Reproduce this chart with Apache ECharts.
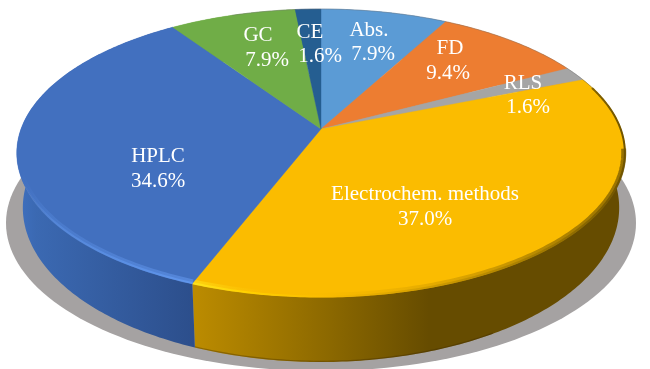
<!DOCTYPE html>
<html><head><meta charset="utf-8">
<style>html,body{margin:0;padding:0;background:#fff}#c{width:650px;height:369px}</style>
<script src="https://cdn.jsdelivr.net/npm/echarts@6/dist/echarts.min.js"></script>
</head><body><div id="c"></div>
<script>
const categories = ['Abs.', 'FD', 'RLS', 'Electrochem. methods', 'HPLC', 'GC', 'CE'];
const shares = [7.9, 9.4, 1.6, 37.0, 34.6, 7.9, 1.6];
const colors = ['#5b9bd5', '#ed7d31', '#a5a5a5', '#fbbc00', '#4270bf', '#70ad47', '#255e91'];
// label anchors: [name x, name y, percent x, percent y]
const labelAnchors = [
  [369, 30, 373, 54], [450, 48, 448, 73], [523, 83, 528, 107],
  [425, 194, 425, 219], [158, 156, 158, 181], [258, 35, 267, 60], [310, 32, 320, 56]
];
const k = 0.1667;
const topPlane = {cx: 321, cy: 129, R: 300, S: 140};
const botPlane = {cx: 321, cy: 182, R: 294, S: 150};
const softPlane = {cx: 321, cy: 129, R: 298.5, S: 138.5};
const edgePlane = {cx: 321, cy: 129, R: 299.6, S: 139.6};
const total = shares.reduce((a, b) => a + b, 0);
function project(pl, deg) {
  const a = deg * Math.PI / 180, u = Math.sin(a), v = -Math.cos(a), w = 1 - k * v;
  return [pl.cx + pl.R * u / w, pl.cy + pl.S * v / w];
}
function arc(pl, a0, a1) {
  const n = Math.max(2, Math.ceil((a1 - a0) / 0.75)), out = [];
  for (let i = 0; i <= n; i++) out.push(project(pl, a0 + (a1 - a0) * i / n));
  return out;
}
function span(i) {
  let s = 0;
  for (let j = 0; j < i; j++) s += shares[j];
  return [s / total * 360, (s + shares[i]) / total * 360];
}
function hGrad(x0, x1, stops) {
  return {type: 'linear', x: x0, y: 0, x2: x1, y2: 0, global: true,
    colorStops: stops.map(s => ({offset: s[0], color: s[1]}))};
}
const sideFill = {
  3: hGrad(196, 620, [[0, '#bb8b00'], [0.3, '#8e6a00'], [0.55, '#664c00'], [1, '#664c00']]),
  4: hGrad(18, 196, [[0, '#3f70bf'], [0.1, '#3b69b2'], [1, '#2c4e8b']])
};
const rimSoft = {
  3: hGrad(196, 622, [[0, 'rgba(255,226,26,0.6)'], [0.2, 'rgba(251,188,0,0)'], [0.5, 'rgba(190,140,0,0.25)'], [0.8, 'rgba(130,98,0,0.55)'], [1, 'rgba(110,82,0,0.7)']]),
  4: hGrad(22, 196, [[0, 'rgba(90,143,228,0)'], [0.15, 'rgba(90,143,228,0.3)'], [0.6, 'rgba(94,146,232,0.5)'], [1, 'rgba(98,150,236,0.6)']])
};
const rimCore = {
  3: hGrad(196, 622, [[0, '#ffe21a'], [0.12, '#ffd000'], [0.3, '#fbbc00'], [0.6, '#c89600'], [0.85, '#9a7400'], [1, '#705400']]),
  4: hGrad(22, 196, [[0, 'rgba(90,143,228,0)'], [0.2, 'rgba(90,143,228,0.55)'], [0.6, '#5a8fe4'], [1, '#6096ec']])
};
const softSpan = {3: [98, 201.24], 4: [201.24, 258]};
const coreSpan = {3: [72, 201.24], 4: [201.24, 258]};
const shadowPts = [];
for (let d = 0; d < 360; d += 2) {
  const a = d * Math.PI / 180;
  shadowPts.push([321 + 315 * Math.cos(a), 223 + 148 * Math.sin(a)]);
}
const names = categories.map((n, i) => ({name: n, value: shares[i]}));
const option = {
  animation: false,
  backgroundColor: '#fff',
  series: [
    { type: 'custom', coordinateSystem: 'none', z: 1, silent: true, data: [0],
      renderItem: () => ({type: 'polygon', shape: {points: shadowPts}, style: {fill: '#a5a2a2'}}) },
    { type: 'custom', coordinateSystem: 'none', z: 2, silent: true, data: names,
      renderItem: (p, api) => {
        const i = p.dataIndex, sp = span(i);
        const pts = arc(topPlane, sp[0], sp[1]).concat(arc(botPlane, sp[0], sp[1]).reverse());
        const kids = [{type: 'polygon', shape: {points: pts}, style: {fill: sideFill[i] || colors[i]}}];
        if (i === 3) {
          kids.push({type: 'polyline', shape: {points: arc({cx: 321, cy: 181.3, R: 294, S: 150}, 150, sp[1])},
            style: {fill: 'none', stroke: 'rgba(60,40,0,0.35)', lineWidth: 1.2}});
        }
        return {type: 'group', children: kids};
      } },
    { type: 'custom', coordinateSystem: 'none', z: 3, silent: true, data: names,
      renderItem: (p, api) => {
        const i = p.dataIndex, sp = span(i);
        const pts = [[topPlane.cx, topPlane.cy]].concat(arc(topPlane, sp[0], sp[1]));
        const kids = [{type: 'polygon', shape: {points: pts}, style: {fill: colors[i], stroke: colors[i], lineWidth: 0.4}}];
        if (rimCore[i]) {
          const r = softSpan[i], c = coreSpan[i];
          kids.push({type: 'polyline', shape: {points: arc(softPlane, r[0], r[1])},
            style: {fill: 'none', stroke: rimSoft[i], lineWidth: 5, lineCap: 'butt'}});
          kids.push({type: 'polyline', shape: {points: arc(edgePlane, c[0], c[1])},
            style: {fill: 'none', stroke: rimCore[i], lineWidth: 2, lineCap: 'butt'}});
        }
        return {type: 'group', children: kids};
      } },
    { type: 'custom', coordinateSystem: 'none', z: 4, silent: true, data: [0],
      renderItem: () => ({type: 'polyline', shape: {points: arc(topPlane, -20, 72)},
        style: {fill: 'none', stroke: 'rgba(110,110,110,0.4)', lineWidth: 1}}) },
    { type: 'custom', coordinateSystem: 'none', z: 5, silent: true, data: names,
      renderItem: (p, api) => {
        const i = p.dataIndex, an = labelAnchors[i];
        const font = {fill: '#fff', fontFamily: '"Liberation Serif","Times New Roman",serif', fontSize: 21,
          align: 'center', verticalAlign: 'middle'};
        return {type: 'group', children: [
          {type: 'text', x: an[0], y: an[1], style: Object.assign({text: categories[i]}, font)},
          {type: 'text', x: an[2], y: an[3], style: Object.assign({text: shares[i].toFixed(1) + '%'}, font)}
        ]};
      } }
  ]
};
echarts.init(document.getElementById('c'), null, {renderer: 'canvas'}).setOption(option);
</script></body></html>
